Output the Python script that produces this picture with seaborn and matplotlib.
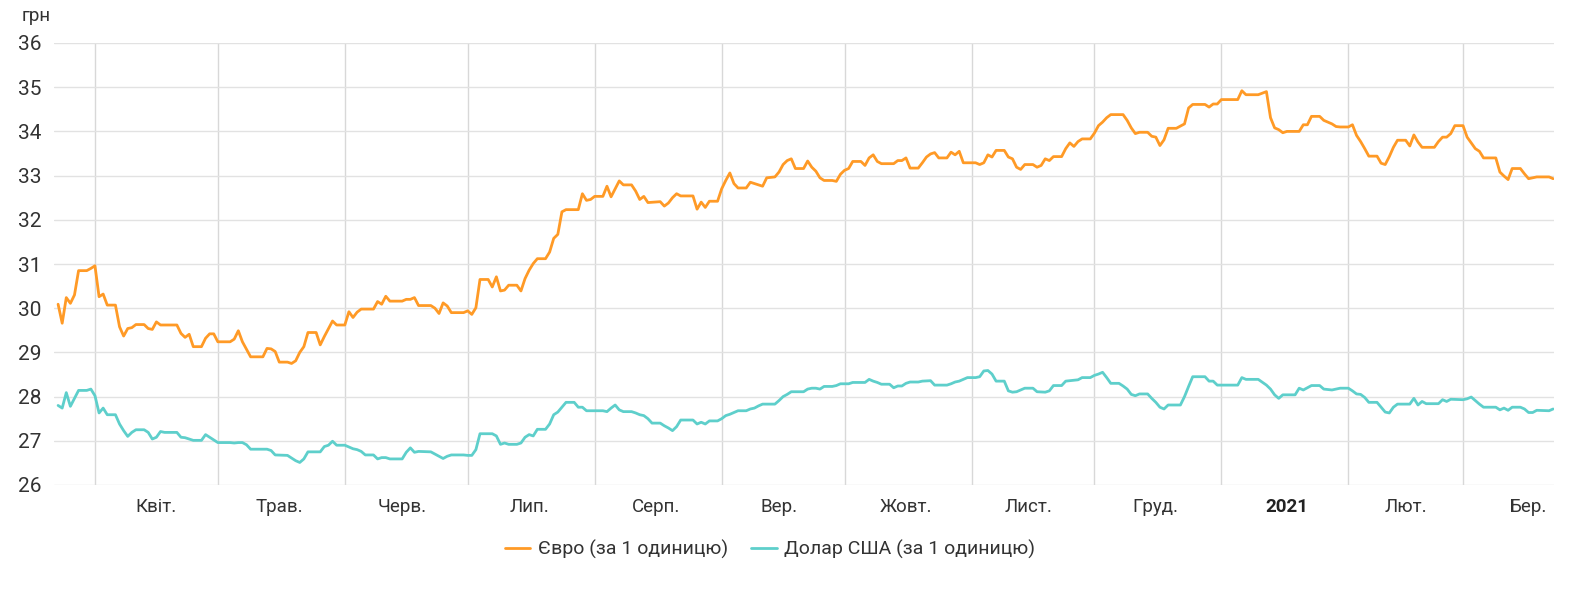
import matplotlib
matplotlib.use("Agg")
import matplotlib.pyplot as plt
import numpy as np
import pandas as pd
import seaborn as sns

# ---------------- data ----------------
start_date = "2020-04-01"   # day 0 of the day offsets below

eur_days = [-9, -8, -7, -6, -5, -4, -2, -1, 0, 1, 2, 3, 5, 6, 7, 8, 9, 10, 12, 13, 14, 15, 16, 20,
            21, 22, 23, 24, 26, 27, 28, 29, 30, 33, 34, 35, 36, 37, 38, 41, 42, 43, 44, 45, 47, 48,
            49, 50, 51, 52, 54, 55, 56, 58, 59, 61, 62, 63, 64, 65, 68, 69, 70, 71, 72, 75, 76, 77,
            78, 79, 82, 83, 84, 85, 86, 87, 90, 91, 92, 93, 94, 96, 97, 98, 99, 100, 101, 103, 104,
            105, 106, 107, 108, 110, 111, 112, 113, 114, 115, 118, 119, 120, 121, 122, 124, 125,
            126, 127, 128, 129, 131, 132, 133, 134, 135, 138, 139, 140, 141, 142, 143, 146, 147,
            148, 149, 150, 152, 153, 154, 155, 156, 157, 159, 160, 161, 163, 164, 166, 167, 168,
            169, 170, 171, 173, 174, 175, 176, 177, 178, 180, 181, 182, 183, 184, 185, 187, 188,
            189, 190, 191, 192, 195, 196, 197, 198, 199, 201, 202, 203, 204, 205, 206, 208, 209,
            210, 211, 212, 215, 216, 217, 218, 219, 220, 222, 223, 224, 225, 226, 227, 229, 230,
            231, 232, 233, 234, 236, 237, 238, 239, 240, 241, 243, 244, 245, 246, 247, 248, 251,
            252, 253, 254, 255, 257, 258, 259, 260, 261, 262, 264, 265, 266, 267, 268, 271, 272,
            273, 274, 275, 279, 280, 281, 284, 286, 287, 288, 289, 290, 291, 294, 295, 296, 297,
            299, 300, 301, 302, 303, 304, 306, 307, 308, 309, 310, 311, 313, 314, 315, 316, 317,
            318, 320, 321, 322, 323, 324, 327, 328, 329, 330, 331, 332, 334, 335, 336, 337, 338,
            339, 342, 343, 344, 345, 346, 348, 349, 350, 351, 352, 355, 356]
eur_vals = [30.09, 29.66, 30.24, 30.11, 30.30, 30.85, 30.85, 30.90, 30.96, 30.26, 30.32, 30.07,
            30.07, 29.58, 29.37, 29.54, 29.56, 29.63, 29.63, 29.54, 29.52, 29.69, 29.62, 29.62,
            29.43, 29.34, 29.41, 29.13, 29.13, 29.32, 29.42, 29.42, 29.24, 29.24, 29.30, 29.49,
            29.24, 29.07, 28.90, 28.90, 29.09, 29.08, 29.02, 28.78, 28.78, 28.75, 28.81, 29.00,
            29.13, 29.45, 29.45, 29.17, 29.36, 29.71, 29.62, 29.62, 29.92, 29.79, 29.91, 29.98,
            29.98, 30.15, 30.09, 30.27, 30.16, 30.16, 30.20, 30.20, 30.24, 30.06, 30.06, 30.00,
            29.88, 30.12, 30.05, 29.90, 29.90, 29.94, 29.86, 30.01, 30.65, 30.65, 30.48, 30.71,
            30.39, 30.41, 30.52, 30.52, 30.39, 30.67, 30.86, 31.01, 31.12, 31.12, 31.27, 31.58,
            31.67, 32.18, 32.23, 32.23, 32.59, 32.44, 32.46, 32.53, 32.53, 32.76, 32.52, 32.70,
            32.88, 32.79, 32.79, 32.65, 32.46, 32.53, 32.39, 32.41, 32.31, 32.38, 32.50, 32.59,
            32.54, 32.54, 32.24, 32.40, 32.28, 32.42, 32.42, 32.70, 32.89, 33.06, 32.82, 32.72,
            32.72, 32.85, 32.82, 32.76, 32.95, 32.97, 33.08, 33.25, 33.34, 33.38, 33.16, 33.16,
            33.33, 33.19, 33.10, 32.95, 32.89, 32.89, 32.87, 33.03, 33.12, 33.16, 33.32, 33.32,
            33.23, 33.40, 33.47, 33.32, 33.27, 33.27, 33.34, 33.34, 33.40, 33.17, 33.17, 33.29,
            33.42, 33.49, 33.52, 33.40, 33.40, 33.53, 33.47, 33.55, 33.29, 33.29, 33.25, 33.29,
            33.47, 33.42, 33.57, 33.57, 33.42, 33.38, 33.19, 33.14, 33.25, 33.25, 33.19, 33.23,
            33.38, 33.34, 33.43, 33.43, 33.61, 33.74, 33.66, 33.77, 33.83, 33.83, 33.96, 34.13,
            34.21, 34.31, 34.38, 34.38, 34.25, 34.08, 33.95, 33.98, 33.98, 33.89, 33.87, 33.68,
            33.81, 34.07, 34.07, 34.12, 34.17, 34.53, 34.61, 34.61, 34.55, 34.62, 34.62, 34.72,
            34.72, 34.92, 34.83, 34.83, 34.90, 34.31, 34.08, 34.04, 33.97, 34.00, 34.00, 34.15,
            34.15, 34.34, 34.34, 34.25, 34.21, 34.17, 34.11, 34.10, 34.10, 34.15, 33.91, 33.77,
            33.61, 33.44, 33.44, 33.28, 33.25, 33.43, 33.64, 33.80, 33.80, 33.67, 33.92, 33.76,
            33.64, 33.64, 33.77, 33.87, 33.87, 33.95, 34.13, 34.13, 33.87, 33.74, 33.61, 33.55,
            33.40, 33.40, 33.08, 32.99, 32.91, 33.16, 33.16, 33.04, 32.93, 32.95, 32.97, 32.97,
            32.93]

usd_days = [-9, -8, -7, -6, -5, -4, -2, -1, 0, 1, 2, 3, 5, 6, 7, 8, 9, 10, 12, 13, 14, 15, 16, 17,
            20, 21, 22, 23, 24, 26, 27, 28, 29, 30, 33, 34, 35, 36, 37, 38, 41, 42, 43, 44, 47, 48,
            49, 50, 51, 52, 55, 56, 57, 58, 59, 61, 62, 63, 64, 65, 66, 68, 69, 70, 71, 72, 75, 76,
            77, 78, 79, 82, 83, 84, 85, 86, 87, 90, 91, 92, 93, 94, 97, 98, 99, 100, 101, 103, 104,
            105, 106, 107, 108, 110, 111, 112, 113, 114, 115, 117, 118, 119, 120, 124, 125, 126,
            127, 128, 129, 131, 132, 133, 134, 135, 136, 138, 139, 140, 141, 142, 143, 146, 147,
            148, 149, 150, 152, 153, 154, 155, 156, 157, 159, 160, 161, 162, 163, 166, 167, 168,
            169, 170, 173, 174, 175, 176, 177, 178, 180, 181, 182, 184, 185, 188, 189, 190, 191,
            192, 194, 195, 196, 197, 198, 199, 201, 202, 204, 205, 208, 209, 210, 211, 212, 213,
            215, 216, 217, 218, 219, 220, 222, 223, 224, 225, 226, 227, 229, 230, 232, 233, 234,
            236, 237, 240, 241, 243, 244, 245, 246, 247, 248, 250, 251, 252, 253, 254, 255, 257,
            258, 259, 260, 261, 262, 265, 266, 267, 268, 271, 272, 273, 274, 279, 280, 281, 284,
            286, 287, 288, 289, 290, 293, 294, 295, 296, 297, 299, 300, 302, 304, 306, 307, 308,
            309, 310, 311, 313, 314, 315, 316, 317, 318, 321, 322, 323, 324, 325, 328, 329, 330,
            331, 334, 335, 336, 337, 338, 339, 342, 343, 344, 345, 346, 348, 349, 350, 351, 352,
            355, 356]
usd_vals = [27.80, 27.74, 28.09, 27.78, 27.96, 28.14, 28.14, 28.17, 28.02, 27.63, 27.74, 27.59,
            27.59, 27.38, 27.23, 27.10, 27.19, 27.25, 27.25, 27.19, 27.04, 27.08, 27.21, 27.19,
            27.19, 27.08, 27.07, 27.04, 27.01, 27.01, 27.14, 27.08, 27.02, 26.96, 26.96, 26.95,
            26.96, 26.96, 26.91, 26.81, 26.81, 26.81, 26.78, 26.68, 26.67, 26.61, 26.55, 26.51,
            26.59, 26.75, 26.75, 26.87, 26.90, 26.99, 26.90, 26.90, 26.86, 26.82, 26.80, 26.76,
            26.68, 26.68, 26.59, 26.62, 26.62, 26.59, 26.59, 26.74, 26.84, 26.74, 26.76, 26.75,
            26.70, 26.65, 26.60, 26.65, 26.68, 26.68, 26.67, 26.67, 26.80, 27.16, 27.16, 27.11,
            26.92, 26.95, 26.92, 26.92, 26.95, 27.08, 27.14, 27.11, 27.26, 27.26, 27.38, 27.59,
            27.65, 27.76, 27.87, 27.87, 27.76, 27.76, 27.68, 27.68, 27.66, 27.74, 27.81, 27.70,
            27.66, 27.66, 27.63, 27.59, 27.57, 27.50, 27.40, 27.40, 27.34, 27.29, 27.23, 27.32,
            27.47, 27.47, 27.38, 27.42, 27.38, 27.45, 27.45, 27.50, 27.57, 27.60, 27.64, 27.68,
            27.68, 27.72, 27.74, 27.79, 27.83, 27.83, 27.91, 28.00, 28.05, 28.11, 28.11, 28.17,
            28.19, 28.19, 28.17, 28.23, 28.23, 28.25, 28.29, 28.29, 28.32, 28.32, 28.39, 28.35,
            28.32, 28.28, 28.28, 28.20, 28.24, 28.24, 28.30, 28.33, 28.33, 28.35, 28.36, 28.26,
            28.26, 28.29, 28.33, 28.35, 28.39, 28.43, 28.43, 28.45, 28.58, 28.59, 28.51, 28.35,
            28.35, 28.13, 28.10, 28.11, 28.15, 28.19, 28.19, 28.11, 28.10, 28.13, 28.25, 28.25,
            28.35, 28.38, 28.43, 28.43, 28.48, 28.51, 28.55, 28.43, 28.30, 28.30, 28.24, 28.17,
            28.05, 28.02, 28.06, 28.06, 27.96, 27.87, 27.76, 27.72, 27.81, 27.81, 28.00, 28.23,
            28.45, 28.45, 28.35, 28.35, 28.26, 28.26, 28.43, 28.39, 28.39, 28.26, 28.17, 28.04,
            27.96, 28.04, 28.04, 28.19, 28.15, 28.20, 28.25, 28.25, 28.17, 28.15, 28.19, 28.19,
            28.13, 28.06, 28.05, 27.98, 27.87, 27.87, 27.76, 27.65, 27.63, 27.76, 27.83, 27.83,
            27.96, 27.81, 27.89, 27.84, 27.84, 27.93, 27.89, 27.94, 27.93, 27.95, 27.99, 27.91,
            27.83, 27.76, 27.76, 27.70, 27.74, 27.69, 27.76, 27.76, 27.72, 27.64, 27.64, 27.69,
            27.68, 27.72]

series_names = ["Євро (за 1 одиницю)", "Долар США (за 1 одиницю)"]
series_colors = ["#FF9A26", "#5ECFCB"]

month_starts = ["2020-04-01", "2020-05-01", "2020-06-01", "2020-07-01", "2020-08-01",
                "2020-09-01", "2020-10-01", "2020-11-01", "2020-12-01", "2021-01-01",
                "2021-02-01", "2021-03-01"]
month_label_dates = ["2020-04-16", "2020-05-16", "2020-06-15", "2020-07-16", "2020-08-16",
                     "2020-09-15", "2020-10-16", "2020-11-15", "2020-12-16", "2021-01-17",
                     "2021-02-15", "2021-03-17"]
month_labels = ["Квіт.", "Трав.", "Черв.", "Лип.", "Серп.", "Вер.", "Жовт.", "Лист.",
                "Груд.", "2021", "Лют.", "Бер."]
y_ticks = list(range(26, 37))
x_range = ["2020-03-22", "2021-03-23 05:00"]
y_unit = "грн"

# ---------------- build frame ----------------
base = pd.Timestamp(start_date)
frames = []
for name, days, vals in [(series_names[0], eur_days, eur_vals),
                         (series_names[1], usd_days, usd_vals)]:
    frames.append(pd.DataFrame({
        "date": base + pd.to_timedelta(days, unit="D"),
        "value": vals,
        "series": name,
    }))
df = pd.concat(frames, ignore_index=True)

# ---------------- plot ----------------
sns.set_theme(style="white")
plt.rcParams["font.family"] = ["Roboto", "DejaVu Sans"]

W, H = 1585, 605
fig = plt.figure(figsize=(W / 100, H / 100), dpi=100)
ax = fig.add_axes([54 / W, 1 - 485 / H, 1500 / W, 442 / H])

sns.lineplot(data=df, x="date", y="value", hue="series", hue_order=series_names,
             palette=series_colors, linewidth=2.0, ax=ax, legend=True)

ax.set_xlim(pd.Timestamp(x_range[0]), pd.Timestamp(x_range[1]))
ax.set_ylim(y_ticks[0], y_ticks[-1])

ax.set_yticks(y_ticks)
ax.set_yticklabels([str(t) for t in y_ticks])
ax.set_xticks(pd.to_datetime(month_label_dates))
ax.set_xticklabels(month_labels)
ax.set_xticks(pd.to_datetime(month_starts), minor=True)

ax.grid(False)
ax.yaxis.grid(True, color="#e2e2e2", linewidth=1.0)
ax.xaxis.grid(True, which="minor", color="#d8d8d8", linewidth=1.0)
ax.xaxis.grid(False, which="major")
ax.set_axisbelow(True)

for s in ax.spines.values():
    s.set_visible(False)

ax.tick_params(axis="y", length=0, pad=9, labelsize=15, labelcolor="#333333")
ax.tick_params(axis="x", which="both", length=0, pad=9, labelsize=13.5, labelcolor="#333333")
for lbl in ax.get_xticklabels():
    if lbl.get_text() == "2021":
        lbl.set_fontweight("bold")
        lbl.set_color("#222222")

ax.set_xlabel("")
ax.set_ylabel("")

fig.text(22 / W, 1 - 16 / H, y_unit, ha="left", va="center", fontsize=13.5, color="#333333")

sns.move_legend(ax, "center", bbox_to_anchor=((770 - 54) / 1500, (485 - 549) / 442),
                ncol=2, frameon=False, title=None, fontsize=14, handlelength=1.3,
                handletextpad=0.4, columnspacing=1.2)
for t in ax.get_legend().get_texts():
    t.set_color("#333333")

fig.savefig("out.png", dpi=100)
